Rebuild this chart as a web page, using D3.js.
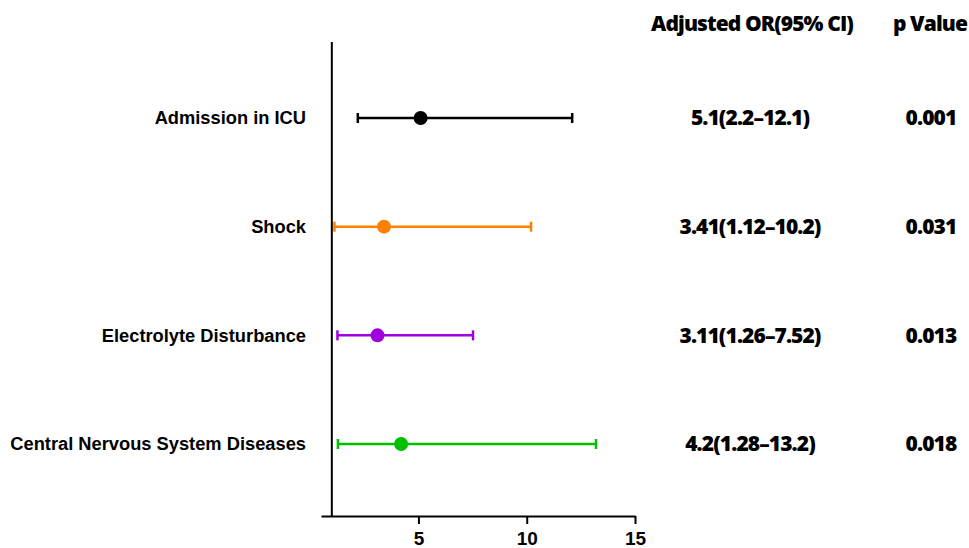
<!DOCTYPE html>
<html>
<head>
<meta charset="utf-8">
<script src="https://cdn.jsdelivr.net/npm/d3@7"></script>
<style>
  body { margin: 0; background: #fff; }
  .tbl { font-family: "Open Sans", sans-serif; font-weight: 800; font-size: 21px; letter-spacing: -0.9px; }
</style>
</head>
<body>
<div id="chart"></div>
<script>
// Data
const categories = ["Admission in ICU", "Shock", "Electrolyte Disturbance", "Central Nervous System Diseases"];
const orValues = [5.1, 3.41, 3.11, 4.2];
const lowerCI = [2.2, 1.12, 1.26, 1.28];
const upperCI = [12.1, 10.2, 7.52, 13.2];
const orLabels = ["5.1(2.2\u201312.1)", "3.41(1.12\u201310.2)", "3.11(1.26\u20137.52)", "4.2(1.28\u201313.2)"];
const pValues = ["0.001", "0.031", "0.013", "0.018"];
const colors = ["#000000", "#ff8000", "#a000e0", "#00c000"];
const xTicks = [5, 10, 15];

let svg = d3.select("#chart")
    .append("svg")
    .attr("width", 969)
    .attr("height", 548);

let x = d3.scaleLinear().domain([0.5, 15]).range([321, 635]);
let y = d3.scalePoint().domain(categories).range([118, 444]);

// x axis
let xAxis = svg.append("g")
    .attr("transform", "translate(0,516)")
    .call(d3.axisBottom(x).tickValues(xTicks).tickSize(8).tickSizeOuter(0));
xAxis.select(".domain").attr("stroke", "#000").attr("stroke-width", 2);
xAxis.selectAll(".tick line").attr("stroke", "#000").attr("stroke-width", 2);
xAxis.selectAll(".tick text")
    .attr("y", 29)
    .attr("dy", 0)
    .attr("fill", "#000")
    .style("font-family", "'Liberation Sans', Arial, sans-serif")
    .style("font-weight", "bold")
    .style("font-size", "19px");

// y axis at OR = 1
svg.append("line")
    .attr("x1", x(1)).attr("x2", x(1))
    .attr("y1", 42).attr("y2", 517)
    .attr("stroke", "#000")
    .attr("stroke-width", 2);

// category labels
svg.selectAll(".cat")
    .data(categories)
    .enter().append("text")
    .attr("class", "cat")
    .attr("x", 306)
    .attr("y", d => y(d))
    .attr("dy", "0.35em")
    .attr("text-anchor", "end")
    .style("font-family", "'Liberation Sans', Arial, sans-serif")
    .style("font-weight", "bold")
    .style("font-size", "18.3px")
    .text(d => d);

// error bars
let rows = svg.selectAll(".row")
    .data(categories)
    .enter().append("g")
    .attr("class", "row");

rows.append("line")
    .attr("x1", (d, i) => x(lowerCI[i]))
    .attr("x2", (d, i) => x(upperCI[i]))
    .attr("y1", d => y(d)).attr("y2", d => y(d))
    .attr("stroke", (d, i) => colors[i])
    .attr("stroke-width", 2.5);

rows.append("line")
    .attr("x1", (d, i) => x(lowerCI[i]))
    .attr("x2", (d, i) => x(lowerCI[i]))
    .attr("y1", d => y(d) - 5).attr("y2", d => y(d) + 5)
    .attr("stroke", (d, i) => colors[i])
    .attr("stroke-width", 2.5);

rows.append("line")
    .attr("x1", (d, i) => x(upperCI[i]))
    .attr("x2", (d, i) => x(upperCI[i]))
    .attr("y1", d => y(d) - 5).attr("y2", d => y(d) + 5)
    .attr("stroke", (d, i) => colors[i])
    .attr("stroke-width", 2.5);

rows.append("circle")
    .attr("cx", (d, i) => x(orValues[i]))
    .attr("cy", d => y(d))
    .attr("r", 7)
    .attr("fill", (d, i) => colors[i]);

// table columns
svg.append("text")
    .attr("class", "tbl")
    .attr("x", 752).attr("y", 24).attr("dy", "0.35em")
    .attr("text-anchor", "middle")
    .text("Adjusted OR(95% CI)");
svg.append("text")
    .attr("class", "tbl")
    .attr("x", 930).attr("y", 24).attr("dy", "0.35em")
    .attr("text-anchor", "middle")
    .text("p Value");

svg.selectAll(".orl")
    .data(categories)
    .enter().append("text")
    .attr("class", "tbl")
    .attr("x", 750)
    .attr("y", d => y(d))
    .attr("dy", "0.35em")
    .attr("text-anchor", "middle")
    .text((d, i) => orLabels[i]);

svg.selectAll(".pv")
    .data(categories)
    .enter().append("text")
    .attr("class", "tbl")
    .attr("x", 931)
    .attr("y", d => y(d))
    .attr("dy", "0.35em")
    .attr("text-anchor", "middle")
    .text((d, i) => pValues[i]);
</script>
</body>
</html>
